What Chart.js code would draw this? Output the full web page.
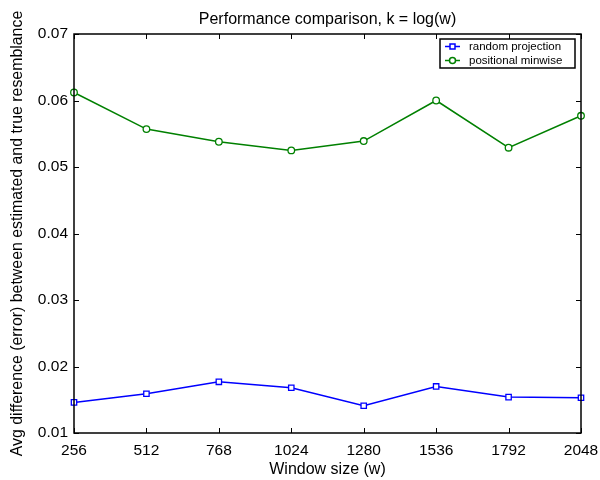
<!DOCTYPE html>
<html>
<head>
<meta charset="utf-8">
<script src="https://cdn.jsdelivr.net/npm/chart.js@4/dist/chart.umd.min.js"></script>
<style>
  html, body { margin: 0; padding: 0; background: #fff; }
  #wrap { width: 600px; height: 480px; }
</style>
</head>
<body>
<div id="wrap"><canvas id="c" width="600" height="480"></canvas></div>
<script>
const windowSizes = [256, 512, 768, 1024, 1280, 1536, 1792, 2048];
const randomProjection = [0.0146, 0.0159, 0.0177, 0.0168, 0.0141, 0.0170, 0.0154, 0.0153];
const positionalMinwise = [0.0612, 0.0557, 0.0538, 0.0525, 0.0539, 0.0600, 0.0529, 0.0577];
const yTicks = [0.01, 0.02, 0.03, 0.04, 0.05, 0.06, 0.07];
const seriesNames = ['random projection', 'positional minwise'];
const titleText = 'Performance comparison, k = log(w)';
const xTitle = 'Window size (w)';
const yTitle = 'Avg difference (error) between estimated and true resemblance';

const FONT = "'Liberation Sans', Arial, Helvetica, sans-serif";

const framePlugin = {
  id: 'frame',
  afterDatasetsDraw(chart) {
    const { ctx, chartArea: a, scales } = chart;
    ctx.save();
    ctx.strokeStyle = '#000';
    ctx.lineWidth = 1;
    const L = 5;
    ctx.beginPath();
    scales.x.ticks.forEach(t => {
      const px = Math.round(scales.x.getPixelForValue(t.value)) + 0.5;
      ctx.moveTo(px, a.bottom); ctx.lineTo(px, a.bottom - L);
      ctx.moveTo(px, a.top); ctx.lineTo(px, a.top + L);
    });
    scales.y.ticks.forEach(t => {
      const py = Math.round(scales.y.getPixelForValue(t.value)) + 0.5;
      ctx.moveTo(a.left, py); ctx.lineTo(a.left + L, py);
      ctx.moveTo(a.right, py); ctx.lineTo(a.right - L, py);
    });
    ctx.stroke();
    ctx.lineWidth = 1.5;
    ctx.strokeRect(a.left, a.top, a.right - a.left, a.bottom - a.top);
    ctx.restore();
  },
  afterDraw(chart) {
    const { ctx, chartArea: a } = chart;
    const ds = chart.data.datasets;
    const boxW = 135, rowH = 14;
    const boxH = 29;
    const x0 = a.right - 6 - boxW;
    const y0 = a.top + 5;
    ctx.save();
    ctx.fillStyle = '#fff';
    ctx.fillRect(x0, y0, boxW, boxH);
    ctx.strokeStyle = '#000';
    ctx.lineWidth = 1.5;
    ctx.strokeRect(x0, y0, boxW, boxH);
    ctx.font = '11.5px ' + FONT;
    ctx.textBaseline = 'middle';
    ds.forEach((d, i) => {
      const cy = y0 + 7.5 + rowH * i;
      ctx.strokeStyle = d.borderColor;
      ctx.lineWidth = 1.5;
      ctx.beginPath();
      ctx.moveTo(x0 + 5, cy); ctx.lineTo(x0 + 20, cy);
      ctx.stroke();
      ctx.fillStyle = '#fff';
      ctx.beginPath();
      if (d.pointStyle === 'rect') {
        ctx.rect(x0 + 12.5 - 2.5, cy - 2.5, 5, 5);
      } else {
        ctx.arc(x0 + 12.5, cy, 3, 0, Math.PI * 2);
      }
      ctx.fill(); ctx.stroke();
      ctx.fillStyle = '#000';
      ctx.fillText(d.label, x0 + 29, cy);
    });
    ctx.restore();
  }
};

new Chart(document.getElementById('c'), {
  type: 'line',
  data: {
    datasets: [
      {
        label: seriesNames[0],
        data: windowSizes.map((w, i) => ({ x: w, y: randomProjection[i] })),
        borderColor: '#0000ff',
        backgroundColor: '#ffffff',
        borderWidth: 1.5,
        pointStyle: 'rect',
        pointRadius: 3.8,
        pointBorderWidth: 1.3,
        pointBorderColor: '#0000ff',
        pointBackgroundColor: '#ffffff',
        tension: 0,
        clip: false
      },
      {
        label: seriesNames[1],
        data: windowSizes.map((w, i) => ({ x: w, y: positionalMinwise[i] })),
        borderColor: '#008000',
        backgroundColor: '#ffffff',
        borderWidth: 1.5,
        pointStyle: 'circle',
        pointRadius: 3.3,
        pointBorderWidth: 1.3,
        pointBorderColor: '#008000',
        pointBackgroundColor: '#ffffff',
        tension: 0,
        clip: false
      }
    ]
  },
  options: {
    responsive: false,
    animation: false,
    devicePixelRatio: 1,
    layout: { padding: { left: 0, right: 19, top: 0, bottom: 0 } },
    plugins: {
      legend: { display: false },
      tooltip: { enabled: false },
      title: {
        display: true,
        fullSize: false,
        text: titleText,
        color: '#000',
        font: { family: FONT, size: 16, weight: 'normal', lineHeight: 1.2 },
        padding: { top: 10.4, bottom: 4.4 }
      }
    },
    scales: {
      x: {
        type: 'linear',
        min: windowSizes[0],
        max: windowSizes[windowSizes.length - 1],
        afterBuildTicks(scale) { scale.ticks = windowSizes.map(v => ({ value: v })); },
        afterFit(scale) { scale.height = 47; scale.paddingLeft = 0; scale.paddingRight = 0; },
        grid: { display: false, drawTicks: false },
        border: { display: false },
        ticks: {
          color: '#000',
          padding: 8,
          maxRotation: 0,
          autoSkip: false,
          font: { family: FONT, size: 15.5 },
          callback: v => String(v)
        },
        title: {
          display: true,
          text: xTitle,
          color: '#000',
          font: { family: FONT, size: 16 },
          padding: { top: 0, bottom: 0.5 }
        }
      },
      y: {
        type: 'linear',
        min: yTicks[0],
        max: yTicks[yTicks.length - 1],
        afterBuildTicks(scale) { scale.ticks = yTicks.map(v => ({ value: v })); },
        afterFit(scale) { scale.width = 74; scale.paddingTop = 0; scale.paddingBottom = 0; },
        grid: { display: false, drawTicks: false },
        border: { display: false },
        ticks: {
          color: '#000',
          padding: 6,
          autoSkip: false,
          font: { family: FONT, size: 15.5 },
          callback: v => Number(v).toFixed(2)
        },
        title: {
          display: true,
          text: yTitle,
          color: '#000',
          font: { family: FONT, size: 15.9 },
          padding: { top: 8, bottom: 0 }
        }
      }
    }
  },
  plugins: [framePlugin]
});
</script>
</body>
</html>
